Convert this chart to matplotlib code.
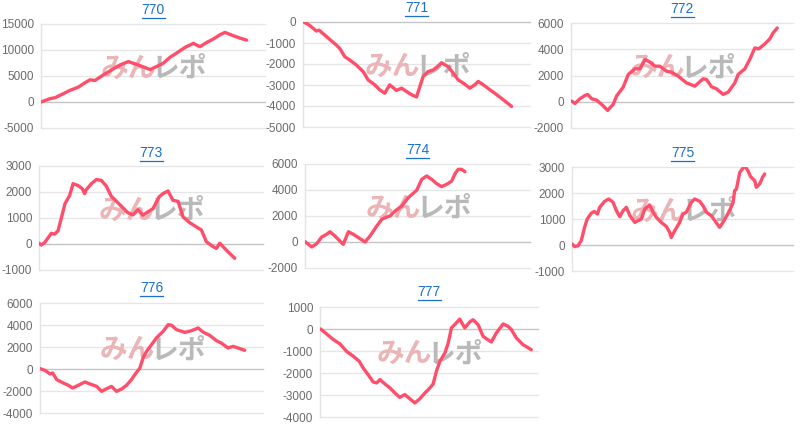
import matplotlib
matplotlib.use("Agg")
import matplotlib.pyplot as plt
from matplotlib.lines import Line2D

plt.rcParams['font.family'] = ['Liberation Sans', 'DejaVu Sans']

# ---- data (x = % of the panel's axis span, y = difference in coins) ----
titles = ["770", "771", "772", "773", "774", "775", "776", "777"]

x770 = [0, 4.0, 6.3, 10.0, 12.9, 16.7, 19.6, 21.9, 24.1, 26.3, 29.3, 32.3, 35.3, 39.0, 41.2, 44.2,
        48.7, 51.6, 54.6, 57.6, 60.6, 64.3, 68.0, 71.0, 74.0, 76.9, 79.9, 82.1, 85.9, 88.8, 91.8]
y770 = [0, 640, 830, 1600, 2230, 2870, 3700, 4270, 4140, 4780, 5600, 6370, 7130, 7770, 7450, 7000,
        6240, 6820, 7450, 8600, 9430, 10500, 11270, 10640, 11460, 12100, 12930, 13380, 12740, 12290, 11900]

x771 = [0.4, 2.9, 5.9, 7.1, 8.8, 11.8, 14.7, 16.2, 18.4, 20.6, 23.5, 26.5, 28.7, 31.6, 33.8, 36.0,
        38.2, 41.2, 43.4, 45.6, 47.8, 50.0, 52.9, 55.1, 57.4, 59.6, 61.0, 64.0, 66.2, 68.4, 70.6,
        73.5, 75.7, 77.2, 79.4, 82.4, 85.3, 88.2, 91.9]
y771 = [0, -160, -430, -390, -550, -830, -1100, -1260, -1650, -1810, -2050, -2360, -2760, -2990, -3230, -3390,
        -2990, -3260, -3150, -3310, -3460, -3570, -2600, -2360, -2280, -2090, -1940, -2130, -2440, -2760, -2910,
        -3150, -2990, -2830, -2990, -3230, -3460, -3700, -4020]

x772 = [0.3, 1.8, 4.0, 6.3, 7.5, 9.3, 11.5, 13.8, 16.5, 19.0, 20.5, 23.5, 25.8, 28.8, 31.0, 33.4,
        35.7, 37.8, 40.0, 43.0, 45.3, 48.3, 52.0, 55.8, 59.5, 61.0, 63.3, 65.5, 68.5, 70.8, 73.8,
        75.3, 78.3, 80.5, 82.8, 84.6, 87.3, 89.5, 91.0, 92.9]
y772 = [50, -130, 230, 480, 560, 230, 130, -200, -660, -200, 430, 1110, 2080, 2510, 2510, 3220,
        3010, 2710, 2710, 2330, 2250, 1950, 1440, 1190, 1750, 1700, 1140, 990, 560, 730, 1440,
        2080, 2510, 3220, 4100, 4030, 4410, 4780, 5240, 5620]

x773 = [0, 1.0, 2.5, 5.5, 7.0, 8.5, 10.1, 11.6, 13.7, 15.2, 17.4, 19.3, 20.4, 21.1, 23.4, 25.6,
        27.8, 30.1, 32.3, 35.3, 37.5, 39.7, 42.0, 44.2, 46.4, 48.7, 50.9, 53.6, 55.4, 57.6, 59.8,
        62.1, 64.3, 67.3, 70.2, 72.5, 74.7, 77.7, 79.2, 80.7, 82.9, 85.1, 87.4]
y773 = [30, -40, 50, 410, 380, 510, 1040, 1550, 1870, 2320, 2250, 2130, 1940, 2090, 2320, 2480,
        2450, 2220, 1830, 1580, 1390, 1200, 1120, 1320, 1110, 1240, 1360, 1810, 1940, 2040, 1680,
        1640, 1040, 820, 660, 540, 90, -100, -170, 30, -170, -360, -550]

x774 = [0, 3.0, 5.2, 7.4, 9.6, 11.1, 13.3, 17.0, 19.3, 21.5, 24.4, 26.7, 28.9, 31.9, 34.1, 36.3,
        37.8, 40.0, 43.0, 45.9, 49.6, 51.9, 54.1, 56.3, 58.5, 60.7, 63.0, 65.2, 66.7, 68.1, 69.6, 71.1]
y774 = [30, -380, -130, 380, 590, 790, 460, -180, 790, 590, 260, 0, 460, 1230, 1740, 1920,
        2000, 2380, 2770, 3410, 3970, 4820, 5080, 4820, 4490, 4260, 4440, 4690, 5260, 5590, 5590, 5410]

x775 = [0, 1.2, 2.7, 4.2, 5.7, 6.9, 8.7, 10.1, 11.5, 12.5, 14.8, 16.6, 18.6, 20.1, 21.6, 23.1,
        24.6, 26.2, 28.4, 29.9, 31.4, 32.9, 35.1, 36.7, 38.2, 40.4, 42.7, 44.2, 44.9, 46.5, 48.7,
        50.2, 51.7, 54.0, 55.5, 57.8, 59.3, 60.8, 63.0, 64.6, 66.8, 68.3, 69.8, 71.3, 72.9, 73.6,
        74.4, 75.9, 77.4, 78.4, 79.6, 80.8, 82.7, 83.4, 84.9, 86.4, 87.2]
y775 = [40, -60, -30, 170, 680, 1000, 1220, 1290, 1190, 1450, 1680, 1770, 1640, 1320, 1090, 1320,
        1450, 1130, 870, 940, 1000, 1380, 1540, 1260, 1060, 870, 710, 490, 290, 550, 870,
        1190, 1260, 1640, 1770, 1680, 1510, 1260, 1130, 940, 680, 870, 1090, 1320, 1640, 2090,
        2150, 2790, 2960, 3010, 2860, 2630, 2470, 2220, 2350, 2630, 2730]

x776 = [0, 2.2, 4.5, 5.7, 7.5, 10.4, 12.7, 14.6, 17.2, 20.1, 22.4, 25.4, 27.6, 29.9, 32.1, 34.3,
        36.6, 38.8, 41.0, 42.5, 44.8, 46.3, 47.8, 50.0, 52.2, 55.2, 57.5, 59.0, 61.2, 64.9, 67.9,
        70.9, 73.1, 76.1, 79.1, 81.3, 84.3, 86.6, 88.8, 91.8]
y776 = [30, -120, -450, -360, -970, -1270, -1480, -1730, -1480, -1180, -1360, -1580, -2030, -1790, -1580, -2030,
        -1820, -1480, -970, -520, 90, 1060, 1610, 2210, 2820, 3420, 4030, 3970, 3580, 3330, 3480,
        3730, 3360, 3060, 2580, 2360, 1910, 2060, 1910, 1700]

x777 = [0.3, 3.1, 6.1, 9.2, 12.2, 15.3, 18.0, 19.8, 22.1, 24.4, 26.0, 27.5, 29.8, 32.1, 34.4, 36.6,
        38.9, 41.2, 43.5, 45.8, 48.1, 50.4, 51.9, 53.4, 55.0, 57.3, 58.8, 60.3, 61.8, 64.1, 66.4,
        68.7, 70.2, 72.5, 74.8, 76.3, 78.6, 80.9, 84.0, 86.3, 87.8, 90.1, 93.1, 96.9]
y777 = [0, -230, -480, -680, -1020, -1240, -1470, -1770, -2080, -2410, -2450, -2300, -2500, -2680, -2910, -3110,
        -2980, -3170, -3360, -3170, -2910, -2680, -2500, -1920, -1470, -1090, -640, 50, 200, 450, 50,
        320, 420, 200, -330, -440, -590, -180, 230, 120, -30, -410, -710, -940]

series_x = [x770, x771, x772, x773, x774, x775, x776, x777]
series_y = [y770, y771, y772, y773, y774, y775, y776, y777]

y_ticks = [
    [-5000, 0, 5000, 10000, 15000],
    [-5000, -4000, -3000, -2000, -1000, 0],
    [-2000, 0, 2000, 4000, 6000],
    [-1000, 0, 1000, 2000, 3000],
    [-2000, 0, 2000, 4000, 6000],
    [-1000, 0, 1000, 2000, 3000],
    [-4000, -2000, 0, 2000, 4000, 6000],
    [-4000, -3000, -2000, -1000, 0, 1000],
]

# ---- layout (pixel boxes: left, right, top, bottom) ----
W, H = 800, 425
boxes = [
    (41, 265, 24, 128),
    (303, 530, 22, 127),
    (571, 793, 23, 128),
    (39, 263, 166, 270),
    (305, 530, 164, 268),
    (572, 793, 167, 271),
    (40, 263, 303, 413),
    (320, 538, 307, 417),
]
title_y = [10, 8, 9, 153, 150, 153, 288, 292]

LINE = "#ff4d6a"
GRID = "#e6e6e6"
ZERO = "#c4c4c4"
TXT = "#6b6b6b"
TITLE = "#1a6fd1"
JP = ["Noto Sans CJK JP", "DejaVu Sans"]

fig = plt.figure(figsize=(W / 100, H / 100), dpi=100)
fig.patch.set_facecolor("white")

for i in range(8):
    l, r, t, b = boxes[i]
    ax = fig.add_axes([l / W, 1 - b / H, (r - l) / W, (b - t) / H])
    ticks = y_ticks[i]
    ax.set_ylim(ticks[0], ticks[-1])
    ax.set_xlim(0, 100)
    ax.set_yticks(ticks)
    ax.set_yticklabels([str(v) for v in ticks], color=TXT, fontsize=8.5)
    ax.set_xticks([])
    ax.tick_params(axis="y", length=0, pad=5)
    for s in ("top", "right", "bottom"):
        ax.spines[s].set_visible(False)
    ax.spines["left"].set_color("#e4e4e4")
    ax.spines["left"].set_linewidth(1)
    for v in ticks:
        ax.axhline(v, color=ZERO if v == 0 else GRID, lw=1, zorder=0.5, clip_on=False)
    # watermark
    ax.text(0.515, 0.57, "みん", transform=ax.transAxes, ha="right", va="center",
            fontsize=20, fontweight="bold", color="#ebb4b6", family=JP, zorder=1)
    ax.text(0.495, 0.57, "レポ", transform=ax.transAxes, ha="left", va="center",
            fontsize=20, fontweight="bold", color="#b9b9b9", family=JP, zorder=1)
    ax.plot(series_x[i], series_y[i], color=LINE, lw=2.4, zorder=3,
            solid_joinstyle="round", solid_capstyle="round")
    # title (underlined, link style)
    cx = (l + r) / 2 / W
    ty = 1 - title_y[i] / H
    fig.text(cx, ty, titles[i], ha="center", va="center", color=TITLE, fontsize=10)
    fig.add_artist(Line2D([cx - 11.5 / W, cx + 11.5 / W], [ty - 7.5 / H, ty - 7.5 / H],
                          color=TITLE, lw=0.9, transform=fig.transFigure))

fig.savefig("out.png", dpi=100, facecolor="white")
